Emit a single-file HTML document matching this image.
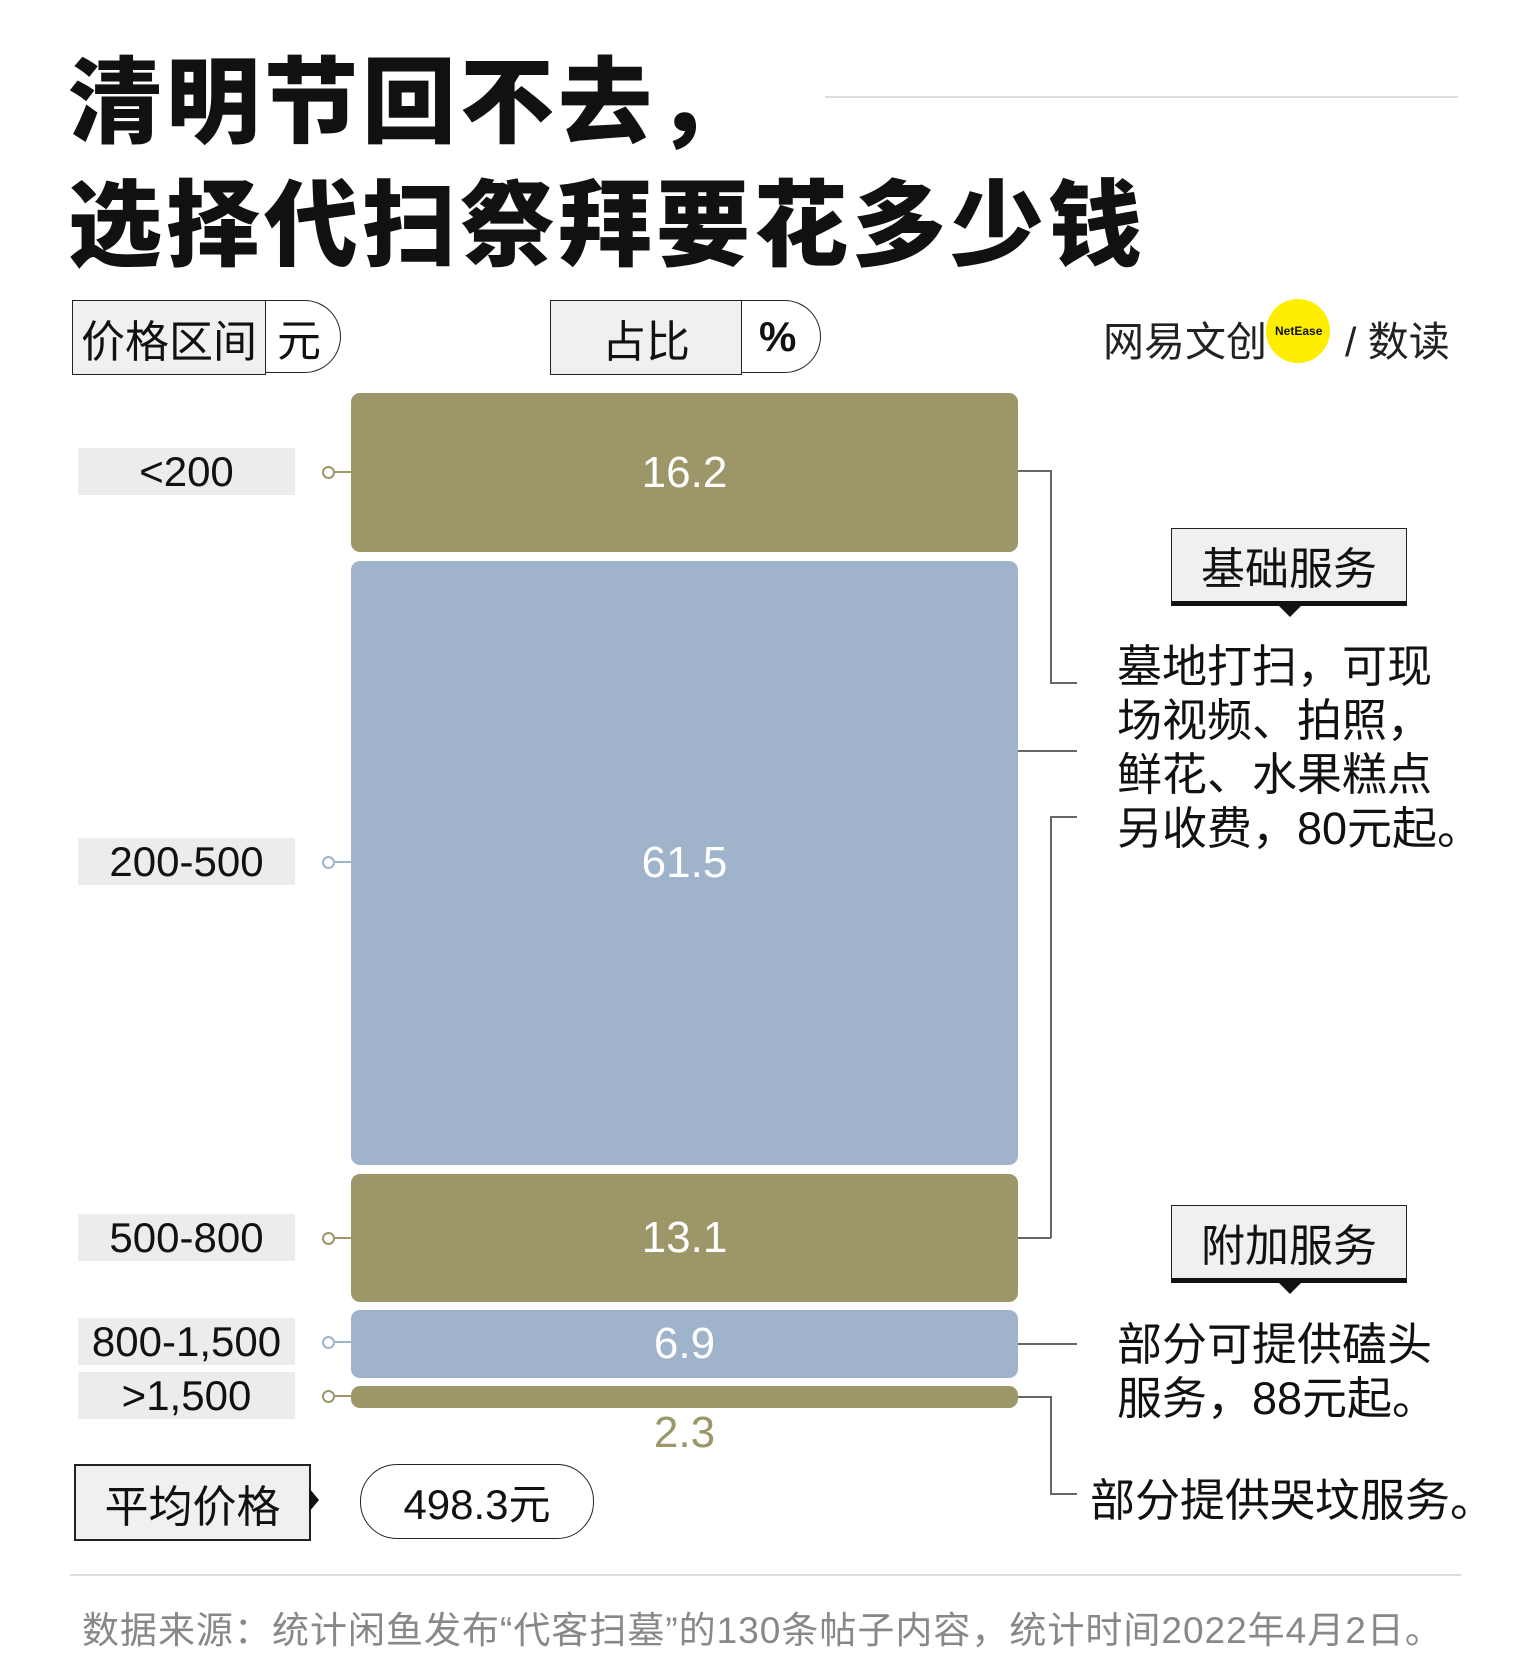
<!DOCTYPE html>
<html><head><meta charset="utf-8"><style>
body{margin:0;width:1525px;height:1678px;background:#fff;position:relative;overflow:hidden;font-family:"Liberation Sans","Noto Sans CJK SC",sans-serif;color:#111}
.a{position:absolute}
.t{font-weight:900;font-size:94px;left:68px;letter-spacing:4px;line-height:1}
.bar{position:absolute;left:351px;width:667px;border-radius:9px;color:#fff;font-size:44px;display:flex;align-items:center;justify-content:center}
.ol{background:#9c9669}.bl{background:#9fb3cb}
.lab{position:absolute;left:78px;width:217px;height:47px;background:#ececec;font-size:42px;display:flex;align-items:center;justify-content:center}
.dot{position:absolute;left:322px;width:9px;height:9px;border:2px solid #9c9669;border-radius:50%;background:#fff}
.dl{position:absolute;left:335px;width:16px;height:2px;background:#9c9669}
.ln{position:absolute;background:#666}
.box{position:absolute;border:1.5px solid #222;background:#f0f0f0;font-size:44px;display:flex;align-items:center;justify-content:center}
.sb{position:absolute;left:1171px;width:234px;height:72px;border:1.5px solid #222;border-bottom:5px solid #111;background:#f0f0f0;font-size:44px;display:flex;align-items:center;justify-content:center}
.sb:after{content:"";position:absolute;left:107px;bottom:-16px;border:11px solid transparent;border-top:11px solid #111;border-bottom:0}
.p{position:absolute;font-size:45px;line-height:54px}
</style></head><body>
<div class="a t" style="top:56px">清明节回不去，</div>
<div class="a t" style="top:179px">选择代扫祭拜要花多少钱</div>
<div class="a" style="left:825px;top:96px;width:633px;height:2px;background:#ddd"></div>

<div class="box" style="left:72px;top:300px;width:192px;height:73px;font-size:44px">价格区间</div>
<div class="a" style="left:265px;top:300px;width:76px;height:73px;border:1.5px solid #222;border-left:none;border-radius:0 38px 38px 0;font-size:44px;display:flex;align-items:center;padding-left:12px;box-sizing:border-box">元</div>
<div class="box" style="left:550px;top:300px;width:190px;height:73px">占比</div>
<div class="a" style="left:741px;top:300px;width:80px;height:73px;border:1.5px solid #222;border-left:none;border-radius:0 38px 38px 0;font-size:42px;font-weight:bold;display:flex;align-items:center;padding-left:18px;box-sizing:border-box">%</div>

<div class="a" style="left:1266px;top:299px;width:64px;height:64px;border-radius:50%;background:#ffee00"></div>
<div class="a" style="left:1103px;top:308px;font-size:41px;color:#222">网易文创</div>
<div class="a" style="left:1275px;top:324px;font-size:12px;font-weight:bold">NetEase</div>
<div class="a" style="left:1345px;top:308px;font-size:41px;color:#222">/ 数读</div>

<div class="bar ol" style="top:393px;height:159px">16.2</div>
<div class="bar bl" style="top:561px;height:604px">61.5</div>
<div class="bar ol" style="top:1174px;height:128px">13.1</div>
<div class="bar bl" style="top:1310px;height:68px">6.9</div>
<div class="bar ol" style="top:1386px;height:22px"></div>
<div class="a" style="left:351px;width:667px;text-align:center;top:1408px;font-size:44px;color:#9c9669">2.3</div>

<div class="lab" style="top:448px">&lt;200</div>
<div class="lab" style="top:838px">200-500</div>
<div class="lab" style="top:1214px">500-800</div>
<div class="lab" style="top:1318px">800-1,500</div>
<div class="lab" style="top:1372px">&gt;1,500</div>
<div class="dl" style="top:471px"></div><div class="dot" style="top:466px"></div>
<div class="dl" style="top:861px;background:#9fb3cb"></div><div class="dot" style="top:856px;border-color:#9fb3cb"></div>
<div class="dl" style="top:1237px"></div><div class="dot" style="top:1232px"></div>
<div class="dl" style="top:1341px;background:#9fb3cb"></div><div class="dot" style="top:1336px;border-color:#9fb3cb"></div>
<div class="dl" style="top:1395px"></div><div class="dot" style="top:1390px"></div>

<div class="ln" style="left:1018px;top:470px;width:33px;height:1.5px"></div>
<div class="ln" style="left:1050px;top:470px;width:1.5px;height:213px"></div>
<div class="ln" style="left:1050px;top:682px;width:27px;height:1.5px"></div>
<div class="ln" style="left:1018px;top:750px;width:59px;height:1.5px"></div>
<div class="ln" style="left:1050px;top:816px;width:27px;height:1.5px"></div>
<div class="ln" style="left:1050px;top:816px;width:1.5px;height:422px"></div>
<div class="ln" style="left:1018px;top:1237px;width:33px;height:1.5px"></div>
<div class="ln" style="left:1018px;top:1343px;width:59px;height:1.5px"></div>
<div class="ln" style="left:1018px;top:1396px;width:33px;height:1.5px"></div>
<div class="ln" style="left:1050px;top:1396px;width:1.5px;height:98px"></div>
<div class="ln" style="left:1050px;top:1493px;width:27px;height:1.5px"></div>

<div class="sb" style="top:528px">基础服务</div>
<div class="p" style="left:1117px;top:640px">墓地打扫，可现<br>场视频、拍照，<br>鲜花、水果糕点<br>另收费，80元起。</div>
<div class="sb" style="top:1205px">附加服务</div>
<div class="p" style="left:1117px;top:1318px">部分可提供磕头<br>服务，88元起。</div>
<div class="p" style="left:1090px;top:1474px">部分提供哭坟服务。</div>

<div class="box" style="left:74px;top:1464px;width:233px;height:73px;border-width:2px;font-size:44px">平均价格</div>
<div class="a" style="left:309px;top:1488px;border:12px solid transparent;border-left:10px solid #111;border-right:0"></div>
<div class="a" style="left:360px;top:1464px;width:232px;height:73px;border:1.5px solid #222;border-radius:37px;font-size:42px;display:flex;align-items:center;justify-content:center">498.3元</div>

<div class="a" style="left:70px;top:1574px;width:1391px;height:2px;background:#ddd"></div>
<div class="a" style="left:82px;top:1600px;font-size:37px;letter-spacing:1px;color:#888">数据来源：统计闲鱼发布“代客扫墓”的130条帖子内容，统计时间2022年4月2日。</div>
</body></html>
